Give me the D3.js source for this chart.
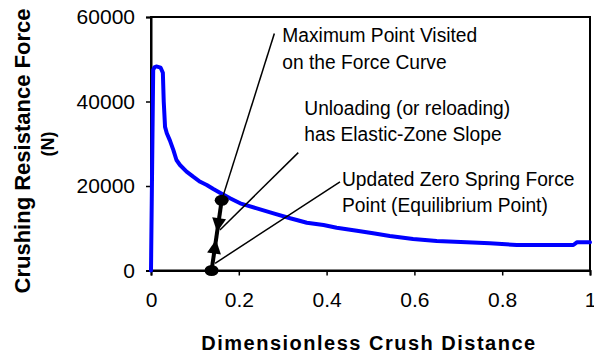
<!DOCTYPE html>
<html>
<head>
<meta charset="utf-8">
<script src="https://cdn.jsdelivr.net/npm/d3@7/dist/d3.min.js"></script>
<style>
  html, body { margin: 0; padding: 0; background: #fff; }
  svg { display: block; font-family: "Liberation Sans", Arial, sans-serif; }
</style>
</head>
<body>
<svg id="chart" width="594" height="358"></svg>
<script>
// ---- data ----
const crushDistance = [0, 0.005, 0.008, 0.012, 0.022, 0.027, 0.029, 0.032, 0.036, 0.043, 0.051, 0.058, 0.066, 0.081, 0.096, 0.112, 0.127, 0.142, 0.157, 0.180, 0.203, 0.241, 0.279, 0.317, 0.355, 0.393, 0.423, 0.469, 0.506, 0.544, 0.597, 0.651, 0.719, 0.772, 0.833, 0.962, 0.970, 1.0];
const crushForce    = [0, 47500, 48100, 48300, 48000, 46800, 40000, 34000, 32500, 30800, 28500, 26150, 24970, 23400, 22200, 21000, 20240, 19290, 18410, 17090, 15900, 14720, 13540, 12360, 11310, 10770, 10130, 9420, 8800, 8170, 7460, 6980, 6670, 6440, 6040, 6040, 6670, 6670];

const unloadDistance = [0.138, 0.161];
const unloadForce    = [0, 16600];
const arrowForce     = [9100, 7300];
const arrowDir       = ["down", "up"];

const xTicks = [0, 0.2, 0.4, 0.6, 0.8, 1];
const xTickLabels = ["0", "0.2", "0.4", "0.6", "0.8", "1"];
const yTicks = [0, 20000, 40000, 60000];
const yTickLabels = ["0", "20000", "40000", "60000"];

const annotationLines = [
  ["Maximum Point Visited", "on the Force Curve"],
  ["Unloading (or reloading)", "has Elastic-Zone Slope"],
  ["Updated Zero Spring Force", "Point (Equilibrium Point)"]
];
const annotationFromX = [0.161, 0.157, 0.146];
const annotationFromY = [16600, 9600, 1700];
const annotationToX   = [0.281, 0.3355, 0.4305];
const annotationToY   = [56100, 27900, 21000];

const xTitle = "Dimensionless Crush Distance";
const yTitle = ["Crushing Resistance Force", "(N)"];

// ---- layout ----
const svg = d3.select("#chart");
const plot = { left: 151, right: 590, top: 17, bottom: 270.5 };
const x = d3.scaleLinear().domain([0, 1]).range([plot.left, plot.right]);
const y = d3.scaleLinear().domain([0, 60000]).range([plot.bottom, plot.top]);

// frame
svg.append("rect")
  .attr("x", plot.left).attr("y", plot.top)
  .attr("width", plot.right - plot.left).attr("height", plot.bottom - plot.top)
  .attr("fill", "none").attr("stroke", "#000").attr("stroke-width", 2);

// axes
const xAxis = svg.append("g")
  .attr("transform", `translate(0,${plot.bottom})`)
  .call(d3.axisBottom(x).tickValues(xTicks).tickFormat((d, i) => xTickLabels[i]).tickSize(5).tickPadding(17));
const yAxis = svg.append("g")
  .attr("transform", `translate(${plot.left},0)`)
  .call(d3.axisLeft(y).tickValues(yTicks).tickFormat((d, i) => yTickLabels[i]).tickSize(5).tickPadding(11));
[xAxis, yAxis].forEach(g => {
  g.select(".domain").attr("stroke", "#000").attr("stroke-width", 2);
  g.selectAll(".tick line").attr("stroke", "#000").attr("stroke-width", 1.5);
  g.selectAll(".tick text").attr("fill", "#000")
    .style("font-family", '"Liberation Sans", Arial, sans-serif').style("font-size", "21px");
});

// blue curve
const curveData = crushDistance.map((d, i) => [d, crushForce[i]]);
svg.append("path")
  .datum(curveData)
  .attr("fill", "none").attr("stroke", "#0000FF").attr("stroke-width", 4)
  .attr("stroke-linejoin", "round").attr("stroke-linecap", "round")
  .attr("d", d3.line().x(d => x(d[0])).y(d => y(d[1])));

// annotation leader lines
annotationLines.forEach((lines, i) => {
  const x1 = x(annotationFromX[i]), y1 = y(annotationFromY[i]);
  const x2 = x(annotationToX[i]), y2 = y(annotationToY[i]);
  svg.append("line")
    .attr("x1", x1).attr("y1", y1).attr("x2", x2).attr("y2", y2)
    .attr("stroke", "#000").attr("stroke-width", 1.5);
});

// unloading path
const unloadData = unloadDistance.map((d, i) => [d, unloadForce[i]]);
svg.append("path")
  .datum(unloadData)
  .attr("fill", "none").attr("stroke", "#000").attr("stroke-width", 4)
  .attr("d", d3.line().x(d => x(d[0])).y(d => y(d[1])));

// arrowheads
const interpX = d3.scaleLinear().domain(unloadForce).range(unloadDistance);
const ang = Math.atan2(y(unloadForce[1]) - y(unloadForce[0]), x(unloadDistance[1]) - x(unloadDistance[0])) * 180 / Math.PI;
arrowForce.forEach((f, i) => {
  const px = x(interpX(f)), py = y(f);
  const rot = arrowDir[i] === "up" ? ang : ang + 180;
  svg.append("path")
    .attr("d", "M0,0 L-14,-7 L-14,7 Z")
    .attr("fill", "#000")
    .attr("transform", `translate(${px},${py}) rotate(${rot})`);
});

// endpoints
unloadData.forEach(d => {
  svg.append("ellipse")
    .attr("cx", x(d[0])).attr("cy", y(d[1]))
    .attr("rx", 7).attr("ry", 5.5).attr("fill", "#000");
});

// annotation text
const textOffsets = [[8, 9], [6, -38], [2, 4]];
annotationLines.forEach((lines, i) => {
  const tx = x(annotationToX[i]) + textOffsets[i][0];
  const ty = y(annotationToY[i]) + textOffsets[i][1];
  const t = svg.append("text")
    .attr("transform", `translate(${tx},${ty}) scale(0.96,1)`)
    .attr("font-size", 20).attr("fill", "#000");
  lines.forEach((s, j) => {
    t.append("tspan").attr("x", 0).attr("dy", j === 0 ? 0 : 26.5).text(s);
  });
});

// axis titles
svg.append("text")
  .attr("x", 369).attr("y", 350)
  .attr("text-anchor", "middle").attr("font-weight", "bold")
  .attr("font-size", 20).attr("letter-spacing", 1.5)
  .text(xTitle);

const yt = svg.append("g").attr("transform", "translate(0,151) rotate(-90)");
yt.append("text").attr("x", 0).attr("y", 30)
  .attr("text-anchor", "middle").attr("font-weight", "bold").attr("font-size", 22)
  .text(yTitle[0]);
yt.append("text").attr("x", 7).attr("y", 54)
  .attr("text-anchor", "middle").attr("font-weight", "bold").attr("font-size", 18)
  .text(yTitle[1]);
</script>
</body>
</html>
